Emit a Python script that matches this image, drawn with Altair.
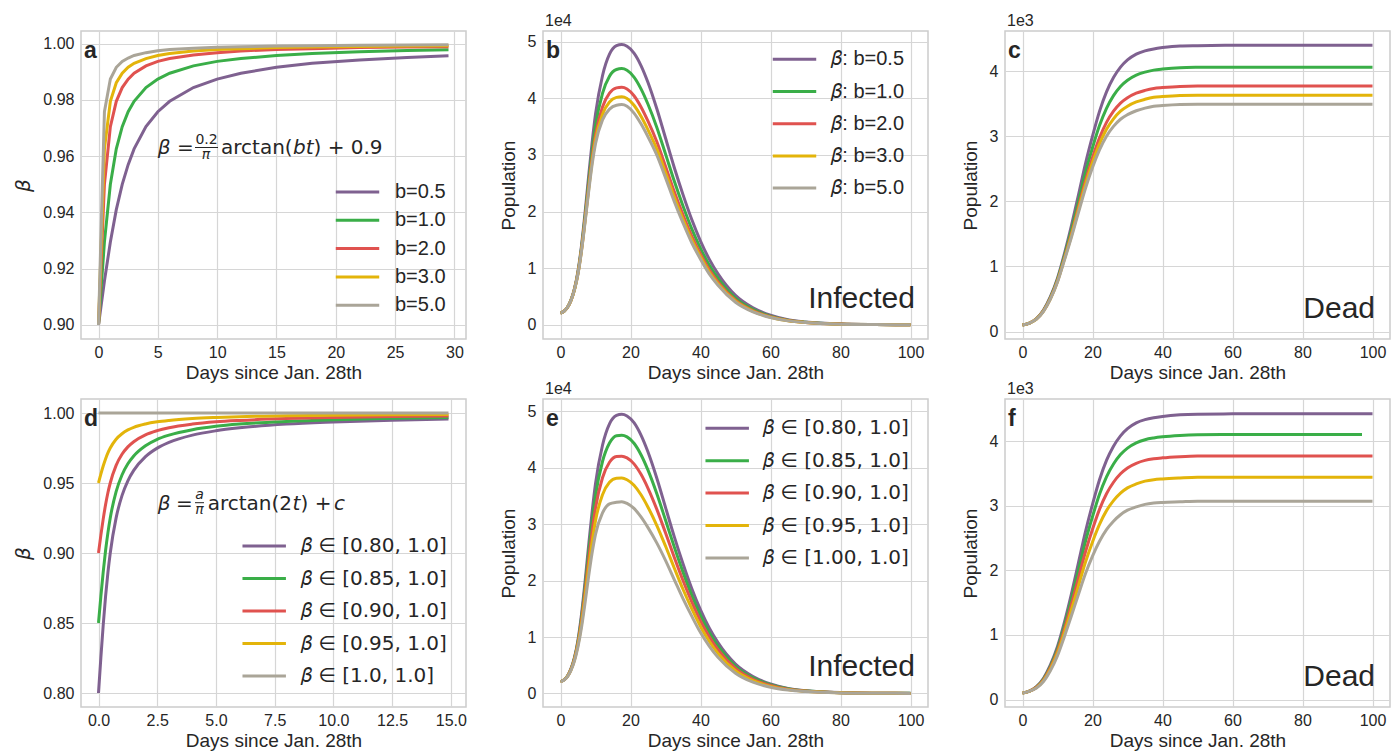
import altair as alt
import pandas as pd

COLORS = ["#7f6190", "#3aae48", "#e0524f", "#e3b40a", "#aaa598"]
TXT = "#262626"

# ---------------- panel a : beta(t) for several b ----------------
A_LABELS = ["b=0.5", "b=1.0", "b=2.0", "b=3.0", "b=5.0"]
A_T = [0, 0.5, 1, 1.5, 2, 2.5, 3, 4, 5, 6, 8, 10, 12, 15, 18, 22, 26, 29.5]
A_B05 = [0.9000, 0.9156, 0.9295, 0.9410, 0.9500, 0.9570, 0.9626, 0.9705, 0.9758, 0.9795, 0.9844, 0.9874, 0.9895, 0.9916, 0.9930, 0.9942, 0.9951, 0.9957]
A_B10 = [0.9000, 0.9295, 0.9500, 0.9626, 0.9705, 0.9758, 0.9795, 0.9844, 0.9874, 0.9895, 0.9921, 0.9937, 0.9947, 0.9958, 0.9965, 0.9971, 0.9976, 0.9978]
A_B20 = [0.9000, 0.9500, 0.9705, 0.9795, 0.9844, 0.9874, 0.9895, 0.9921, 0.9937, 0.9947, 0.9960, 0.9968, 0.9974, 0.9979, 0.9982, 0.9986, 0.9988, 0.9989]
A_B30 = [0.9000, 0.9626, 0.9795, 0.9861, 0.9895, 0.9916, 0.9930, 0.9947, 0.9958, 0.9965, 0.9974, 0.9979, 0.9982, 0.9986, 0.9988, 0.9990, 0.9992, 0.9993]
A_B50 = [0.9000, 0.9758, 0.9874, 0.9916, 0.9937, 0.9949, 0.9958, 0.9968, 0.9975, 0.9979, 0.9984, 0.9987, 0.9989, 0.9992, 0.9993, 0.9994, 0.9995, 0.9996]

# ---------------- panels b / e : infected (units of 1e4) ----------------
B_LABELS = ["𝛽: b=0.5", "𝛽: b=1.0", "𝛽: b=2.0", "𝛽: b=3.0", "𝛽: b=5.0"]
I_T = [0, 1, 2, 3, 4, 5, 6, 7, 8, 9, 10, 12, 14, 16, 17.5, 19, 21, 23, 25, 27.5, 30, 32.5, 35, 37.5, 40, 42.5, 45, 50, 55, 60, 65, 70, 80, 90, 100]
B_P = [0.21, 0.24, 0.31, 0.44, 0.64, 0.95, 1.4, 1.97, 2.6, 3.2, 3.72, 4.4, 4.78, 4.93, 4.95, 4.92, 4.80, 4.58, 4.28, 3.82, 3.3, 2.78, 2.3, 1.86, 1.48, 1.16, 0.9, 0.52, 0.3, 0.17, 0.09, 0.05, 0.015, 0.005, 0.002]
B_G = [0.21, 0.24, 0.31, 0.436, 0.632, 0.93, 1.36, 1.902, 2.492, 3.048, 3.512, 4.088, 4.392, 4.51, 4.526, 4.496, 4.376, 4.168, 3.896, 3.492, 3.02, 2.54, 2.1, 1.696, 1.352, 1.056, 0.82, 0.472, 0.272, 0.154, 0.082, 0.046, 0.0138, 0.0046, 0.0016]
B_R = [0.21, 0.24, 0.31, 0.433, 0.626, 0.915, 1.329, 1.849, 2.408, 2.930, 3.351, 3.846, 4.091, 4.185, 4.197, 4.167, 4.047, 3.849, 3.598, 3.238, 2.803, 2.354, 1.945, 1.569, 1.253, 0.975, 0.758, 0.435, 0.250, 0.142, 0.076, 0.043, 0.0129, 0.0043, 0.0013]
B_Y = [0.21, 0.24, 0.31, 0.431, 0.623, 0.907, 1.313, 1.822, 2.365, 2.869, 3.268, 3.721, 3.936, 4.017, 4.028, 3.998, 3.878, 3.684, 3.445, 3.107, 2.691, 2.258, 1.865, 1.503, 1.202, 0.934, 0.726, 0.416, 0.239, 0.135, 0.073, 0.041, 0.0124, 0.0041, 0.0011]
B_K = [0.21, 0.24, 0.31, 0.43, 0.62, 0.9, 1.3, 1.8, 2.33, 2.82, 3.2, 3.62, 3.81, 3.88, 3.89, 3.86, 3.74, 3.55, 3.32, 3.0, 2.6, 2.18, 1.8, 1.45, 1.16, 0.9, 0.7, 0.4, 0.23, 0.13, 0.07, 0.04, 0.012, 0.004, 0.001]

E_LABELS = ["𝛽 ∈ [0.80, 1.0]", "𝛽 ∈ [0.85, 1.0]", "𝛽 ∈ [0.90, 1.0]", "𝛽 ∈ [0.95, 1.0]", "𝛽 ∈ [1.00, 1.0]"]
E_P = B_P
E_G = [0.21, 0.24, 0.308, 0.433, 0.626, 0.921, 1.345, 1.881, 2.470, 3.027, 3.504, 4.112, 4.439, 4.570, 4.578, 4.548, 4.435, 4.232, 3.958, 3.544, 3.074, 2.598, 2.151, 1.742, 1.384, 1.083, 0.838, 0.482, 0.276, 0.156, 0.083, 0.046, 0.0138, 0.0045, 0.0018]
E_R = [0.21, 0.24, 0.305, 0.426, 0.611, 0.892, 1.290, 1.792, 2.341, 2.854, 3.288, 3.824, 4.098, 4.201, 4.206, 4.176, 4.070, 3.884, 3.637, 3.268, 2.849, 2.415, 2.002, 1.625, 1.288, 1.006, 0.775, 0.443, 0.252, 0.141, 0.076, 0.042, 0.0126, 0.004, 0.0015]
E_Y = [0.21, 0.24, 0.303, 0.418, 0.596, 0.862, 1.232, 1.700, 2.206, 2.674, 3.063, 3.524, 3.743, 3.816, 3.819, 3.789, 3.690, 3.522, 3.302, 2.981, 2.614, 2.225, 1.847, 1.502, 1.188, 0.926, 0.710, 0.403, 0.227, 0.126, 0.068, 0.038, 0.0114, 0.0035, 0.0013]
E_K = [0.21, 0.24, 0.30, 0.41, 0.58, 0.83, 1.17, 1.6, 2.06, 2.48, 2.82, 3.2, 3.36, 3.39, 3.40, 3.37, 3.28, 3.13, 2.94, 2.67, 2.36, 2.02, 1.68, 1.37, 1.08, 0.84, 0.64, 0.36, 0.20, 0.11, 0.06, 0.033, 0.01, 0.003, 0.001]

# ---------------- panels c / f : dead (units of 1e3) ----------------
D_T = [0, 2, 4, 6, 8, 10, 12, 14, 16, 18, 20, 22, 24, 26, 28, 30, 32.5, 35, 37.5, 40, 45, 50, 60, 80, 100]
D_T_F_GREEN = [0, 2, 4, 6, 8, 10, 12, 14, 16, 18, 20, 22, 24, 26, 28, 30, 32.5, 35, 37.5, 40, 45, 50, 60, 80, 97]
C_P = [0.10, 0.13, 0.20, 0.33, 0.54, 0.82, 1.2, 1.63, 2.1, 2.58, 3.0, 3.38, 3.68, 3.9, 4.06, 4.17, 4.26, 4.31, 4.34, 4.36, 4.385, 4.39, 4.395, 4.395, 4.395]
C_G = [0.10, 0.13, 0.196, 0.323, 0.525, 0.798, 1.163, 1.563, 2.0, 2.439, 2.822, 3.162, 3.428, 3.623, 3.764, 3.859, 3.938, 3.984, 4.014, 4.031, 4.052, 4.057, 4.06, 4.06, 4.06]
C_R = [0.10, 0.13, 0.193, 0.316, 0.512, 0.779, 1.131, 1.506, 1.914, 2.318, 2.669, 2.973, 3.211, 3.383, 3.508, 3.590, 3.660, 3.703, 3.733, 3.746, 3.764, 3.769, 3.77, 3.77, 3.77]
C_Y = [0.10, 0.13, 0.192, 0.313, 0.506, 0.769, 1.116, 1.478, 1.872, 2.259, 2.594, 2.881, 3.105, 3.266, 3.384, 3.460, 3.525, 3.566, 3.596, 3.608, 3.625, 3.63, 3.63, 3.63, 3.63]
C_K = [0.10, 0.13, 0.19, 0.31, 0.5, 0.76, 1.1, 1.45, 1.83, 2.2, 2.52, 2.79, 3.0, 3.15, 3.26, 3.33, 3.39, 3.43, 3.46, 3.47, 3.485, 3.49, 3.49, 3.49, 3.49]

F_P = [0.10, 0.13, 0.2, 0.33, 0.54, 0.82, 1.2, 1.64, 2.12, 2.6, 3.02, 3.4, 3.7, 3.92, 4.08, 4.19, 4.28, 4.33, 4.36, 4.38, 4.405, 4.415, 4.42, 4.42, 4.42]
F_G = [0.10, 0.13, 0.195, 0.318, 0.519, 0.787, 1.148, 1.559, 2.004, 2.446, 2.830, 3.175, 3.446, 3.645, 3.791, 3.891, 3.972, 4.02, 4.047, 4.065, 4.086, 4.096, 4.10, 4.10, 4.10]
F_R = [0.10, 0.13, 0.19, 0.306, 0.497, 0.753, 1.094, 1.476, 1.884, 2.287, 2.635, 2.943, 3.185, 3.362, 3.493, 3.584, 3.655, 3.70, 3.725, 3.74, 3.758, 3.768, 3.77, 3.77, 3.77]
F_Y = [0.10, 0.13, 0.185, 0.294, 0.475, 0.718, 1.04, 1.393, 1.764, 2.128, 2.439, 2.71, 2.923, 3.078, 3.194, 3.275, 3.336, 3.379, 3.402, 3.414, 3.429, 3.439, 3.44, 3.44, 3.44]
F_K = [0.1, 0.13, 0.18, 0.28, 0.45, 0.68, 0.98, 1.3, 1.63, 1.95, 2.22, 2.45, 2.63, 2.76, 2.86, 2.93, 2.98, 3.02, 3.04, 3.05, 3.06, 3.07, 3.07, 3.07, 3.07]

# ---------------- panel d : beta(t) for several lower bounds ----------------
D_LABELS = ["𝛽 ∈ [0.80, 1.0]", "𝛽 ∈ [0.85, 1.0]", "𝛽 ∈ [0.90, 1.0]", "𝛽 ∈ [0.95, 1.0]", "𝛽 ∈ [1.0, 1.0]"]
DB_T = [0, 0.1, 0.2, 0.3, 0.4, 0.5, 0.75, 1, 1.25, 1.5, 2, 2.5, 3, 4, 5, 6, 8, 10, 12.5, 14.9]
DB_80 = [0.8000, 0.8251, 0.8484, 0.8688, 0.8859, 0.9000, 0.9251, 0.9410, 0.9516, 0.9590, 0.9688, 0.9749, 0.9790, 0.9842, 0.9873, 0.9894, 0.9921, 0.9936, 0.9949, 0.9957]
DB_85 = [0.8500, 0.8689, 0.8863, 0.9016, 0.9144, 0.9250, 0.9439, 0.9557, 0.9637, 0.9693, 0.9766, 0.9812, 0.9842, 0.9881, 0.9905, 0.9921, 0.9940, 0.9952, 0.9962, 0.9968]
DB_90 = [0.9000, 0.9126, 0.9242, 0.9344, 0.9430, 0.9500, 0.9626, 0.9705, 0.9758, 0.9795, 0.9844, 0.9874, 0.9895, 0.9921, 0.9937, 0.9947, 0.9960, 0.9968, 0.9975, 0.9979]
DB_95 = [0.9500, 0.9563, 0.9621, 0.9672, 0.9715, 0.9750, 0.9813, 0.9852, 0.9879, 0.9898, 0.9922, 0.9937, 0.9947, 0.9960, 0.9968, 0.9974, 0.9980, 0.9984, 0.9987, 0.9989]
DB_100 = [1.0] * 20

W, H = 385, 308
ANN = pd.DataFrame({"k": [0]})


def frame(names, ts, series):
    rows = []
    for name, t, vals in zip(names, ts, series):
        for ti, vi in zip(t, vals):
            rows.append({"t": ti, "v": vi, "series": name})
    return pd.DataFrame(rows)


def legend(x, y, font, offset, rowpad):
    return alt.Legend(orient="none", legendX=x, legendY=y, title=None, padding=0, offset=0,
                      symbolType="M-4,0H4", symbolSize=118, symbolStrokeWidth=3,
                      symbolFillColor="transparent", labelFont=font, labelFontSize=20,
                      labelColor=TXT, labelOffset=offset, rowPadding=rowpad, labelLimit=400)


def txt(s, x, y, size, align="left", font="Liberation Sans", weight="normal", style="normal"):
    return alt.Chart(ANN).mark_text(text=s, align=align, baseline="alphabetic", fontSize=size,
                                    font=font, fontWeight=weight, fontStyle=style, color=TXT
                                    ).encode(x=alt.value(x), y=alt.value(y))


def bar(x1, x2, y):
    return alt.Chart(ANN).mark_rule(color=TXT, strokeWidth=1).encode(
        x=alt.value(x1), x2=alt.value(x2), y=alt.value(y))


def panel(df, names, xdom, ydom, xvals, yvals, xfmt, yfmt, ytitle, leg, interp, extras, ytitle_math=False):
    if ytitle_math:
        yaxis = alt.Axis(values=yvals, format=yfmt, title=ytitle, labelPadding=7, titlePadding=9,
                         titleFont="DejaVu Sans", titleFontStyle="italic", titleFontSize=20)
    else:
        yaxis = alt.Axis(values=yvals, format=yfmt, title=ytitle, labelPadding=7, titlePadding=9)
    lines = alt.Chart(df).mark_line(strokeWidth=3, interpolate=interp).encode(
        x=alt.X("t:Q", scale=alt.Scale(domain=xdom, nice=False, zero=False),
                axis=alt.Axis(values=xvals, format=xfmt, title="Days since Jan. 28th",
                              labelPadding=5, titlePadding=3)),
        y=alt.Y("v:Q", scale=alt.Scale(domain=ydom, nice=False, zero=False), axis=yaxis),
        color=alt.Color("series:N", scale=alt.Scale(domain=names, range=COLORS), legend=leg),
    )
    return alt.layer(lines, *extras).properties(width=W, height=H)


# panel a
df_a = frame(A_LABELS, [A_T] * 5, [A_B05, A_B10, A_B20, A_B30, A_B50])
pa = panel(df_a, A_LABELS, [-1.475, 30.975], [0.895, 1.0045], [0, 5, 10, 15, 20, 25, 30],
           [0.90, 0.92, 0.94, 0.96, 0.98, 1.00], "d", ".2f", "β",
           legend(266.5, 151, "Liberation Sans", 27.5, 8.3), "linear",
           [txt("a", 3, 27, 23, weight="bold"),
            txt("β", 76.7, 122.7, 20, font="DejaVu Sans", style="italic"),
            txt("=", 96, 122.7, 20, font="DejaVu Sans"),
            txt("0.2", 125.5, 113.3, 14, align="center", font="DejaVu Sans"),
            bar(114, 137, 116.5),
            txt("π", 125, 128, 14, align="center", font="DejaVu Sans", style="italic"),
            txt("arctan(", 140, 122.7, 20, font="DejaVu Sans"),
            txt("bt", 212, 122.7, 20, font="DejaVu Sans", style="italic"),
            txt(") + 0.9", 232.5, 122.7, 20, font="DejaVu Sans")],
           ytitle_math=True)

# panel b
df_b = frame(B_LABELS, [I_T] * 5, [B_P, B_G, B_R, B_Y, B_K])
pb = panel(df_b, B_LABELS, [-5, 105], [-0.25, 5.19], [0, 20, 40, 60, 80, 100], [0, 1, 2, 3, 4, 5],
           "d", "d", "Population", legend(241.5, 18.3, "Liberation Sans", 26.8, 12.2), "monotone",
           [txt("b", 3, 27, 23, weight="bold"), txt("1e4", 2, -5, 16),
            txt("Infected", 372, 277, 30, align="right")])

# panel c
df_c = frame(A_LABELS, [D_T] * 5, [C_P, C_G, C_R, C_Y, C_K])
pc = panel(df_c, A_LABELS, [-5, 105], [-0.115, 4.615], [0, 20, 40, 60, 80, 100], [0, 1, 2, 3, 4],
           "d", "d", "Population", None, "monotone",
           [txt("c", 3, 27, 23, weight="bold"), txt("1e3", 2, -5, 16),
            txt("Dead", 370, 287, 30, align="right")])

# panel d
df_d = frame(D_LABELS, [DB_T] * 5, [DB_80, DB_85, DB_90, DB_95, DB_100])
pd_ = panel(df_d, D_LABELS, [-0.745, 15.645], [0.79, 1.01], [0, 2.5, 5, 7.5, 10, 12.5, 15],
            [0.80, 0.85, 0.90, 0.95, 1.00], ".1f", ".2f", "β",
            legend(173.2, 137, "DejaVu Sans", 26.8, 12.5), "monotone",
            [txt("d", 3, 27, 23, weight="bold"),
             txt("β", 76.7, 111.3, 20, font="DejaVu Sans", style="italic"),
             txt("=", 95, 111.3, 20, font="DejaVu Sans"),
             txt("a", 118.5, 99.7, 14, align="center", font="DejaVu Sans", style="italic"),
             bar(114, 123, 103.7),
             txt("π", 118.5, 115, 14, align="center", font="DejaVu Sans", style="italic"),
             txt("arctan(2", 126.7, 111.3, 20, font="DejaVu Sans"),
             txt("t", 211.5, 111.3, 20, font="DejaVu Sans", style="italic"),
             txt(") +", 219.5, 111.3, 20, font="DejaVu Sans"),
             txt("c", 253, 111.3, 20, font="DejaVu Sans", style="italic")],
            ytitle_math=True)

# panel e
df_e = frame(E_LABELS, [I_T] * 5, [E_P, E_G, E_R, E_Y, E_K])
pe = panel(df_e, E_LABELS, [-5, 105], [-0.24, 5.22], [0, 20, 40, 60, 80, 100], [0, 1, 2, 3, 4, 5],
           "d", "d", "Population", legend(174.2, 19.3, "DejaVu Sans", 25.8, 12.4), "monotone",
           [txt("e", 3, 27, 23, weight="bold"), txt("1e4", 2, -5, 16),
            txt("Infected", 372, 277, 30, align="right")])

# panel f
df_f = frame(A_LABELS, [D_T, D_T_F_GREEN, D_T, D_T, D_T], [F_P, F_G, F_R, F_Y, F_K])
pf = panel(df_f, A_LABELS, [-5, 105], [-0.115, 4.65], [0, 20, 40, 60, 80, 100], [0, 1, 2, 3, 4],
           "d", "d", "Population", None, "monotone",
           [txt("f", 3, 27, 23, weight="bold"), txt("1e3", 2, -5, 16),
            txt("Dead", 370, 287, 30, align="right")])

chart = alt.concat(pa, pb, pc, pd_, pe, pf, columns=3, spacing={"row": 60, "column": 77},
                   bounds="flush").resolve_scale(color="independent").resolve_legend(
    color="independent").properties(
    padding={"left": 13, "top": 12, "right": 5, "bottom": 5}, background="white"
).configure_view(stroke="#cccccc", strokeWidth=1.5).configure_axis(
    grid=True, gridColor="#d6d6d6", gridWidth=1.2, domain=False, ticks=False,
    labelFont="Liberation Sans", labelFontSize=16, labelColor=TXT, labelFlush=False, labelOverlap=False,
    titleFont="Liberation Sans", titleFontSize=19, titleColor=TXT, titleFontWeight="normal")

chart.save("out.html", embed_options={"renderer": "svg", "actions": False})
